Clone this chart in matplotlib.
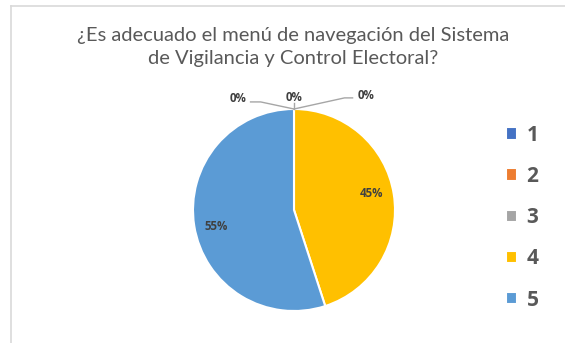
import numpy as np
import matplotlib
matplotlib.use("Agg")
import matplotlib.pyplot as plt
from matplotlib.lines import Line2D

plt.rcParams['font.family'] = ['Lato', 'DejaVu Sans']

# survey answers (scale 1-5) and share of responses
categories = ['1', '2', '3', '4', '5']
shares = [0, 0, 0, 45, 55]
colors = ['#4472C4', '#ED7D31', '#A5A5A5', '#FFC000', '#5B9BD5']
title = '¿Es adecuado el menú de navegación del Sistema\nde Vigilancia y Control Electoral?'

W, H = 565, 343
fig = plt.figure(figsize=(W / 100, H / 100), dpi=100)

# chart frame (left and top edges)
fig.add_artist(Line2D([10.5 / W, 10.5 / W], [0, 1 - 6 / H], transform=fig.transFigure,
                      color='#d9d9d9', lw=1.2))
fig.add_artist(Line2D([10.5 / W, 1], [1 - 6 / H, 1 - 6 / H], transform=fig.transFigure,
                      color='#d9d9d9', lw=1.2))

fig.text(293 / W, 1 - 47 / H, title, ha='center', va='center', fontsize=14.5,
         color='#595959', linespacing=1.4)

# pie: centre (294, 210) px, radius 101 px
cx, cy, r = 294, 210, 101
ax = fig.add_axes([(cx - r) / W, (H - cy - r) / H, 2 * r / W, 2 * r / H])
wedges, _ = ax.pie(shares, colors=colors, startangle=90, counterclock=False,
                   wedgeprops=dict(edgecolor='white', linewidth=1.5))
ax.set_xlim(-1, 1)
ax.set_ylim(-1, 1)
ax.set_aspect('equal')
ax.axis('off')

bold = ['Open Sans', 'DejaVu Sans']
lbl = dict(fontsize=8.3, fontweight='bold', family=bold, color='#404040',
           ha='center', va='center')

# zero-share slices get labels above the pie with leader lines
zero_pos = {0: (-0.55, 1.10), 1: (0.0, 1.11), 2: (0.71, 1.13)}
for i, (w, v) in enumerate(zip(wedges, shares)):
    label = f'{v}%'
    if v == 0:
        tx, ty = zero_pos[i]
        if i == 0:
            ax.plot([-0.43, -0.33, 0.0], [1.07, 1.07, 1.0], color='#a6a6a6', lw=1, clip_on=False)
        elif i == 1:
            ax.plot([0.0, 0.0], [1.06, 1.0], color='#a6a6a6', lw=1, clip_on=False)
        else:
            ax.plot([0.0, 0.5, 0.58], [1.0, 1.11, 1.11], color='#a6a6a6', lw=1, clip_on=False)
        ax.text(tx, ty, label, clip_on=False, **lbl)
    else:
        mid = np.deg2rad((w.theta1 + w.theta2) / 2)
        ax.text(0.78 * np.cos(mid), 0.78 * np.sin(mid) + 0.04 * np.sign(np.sin(mid)),
                label, **lbl)

fig.legend(wedges, categories, loc='upper left', bbox_to_anchor=(487 / W, 1 - 106 / H),
           frameon=False, handlelength=0.55, handleheight=0.55, handletextpad=0.45,
           labelspacing=0.97, prop=dict(size=15, weight='bold', family=bold),
           labelcolor='#595959')

fig.savefig('out.png', dpi=100)
